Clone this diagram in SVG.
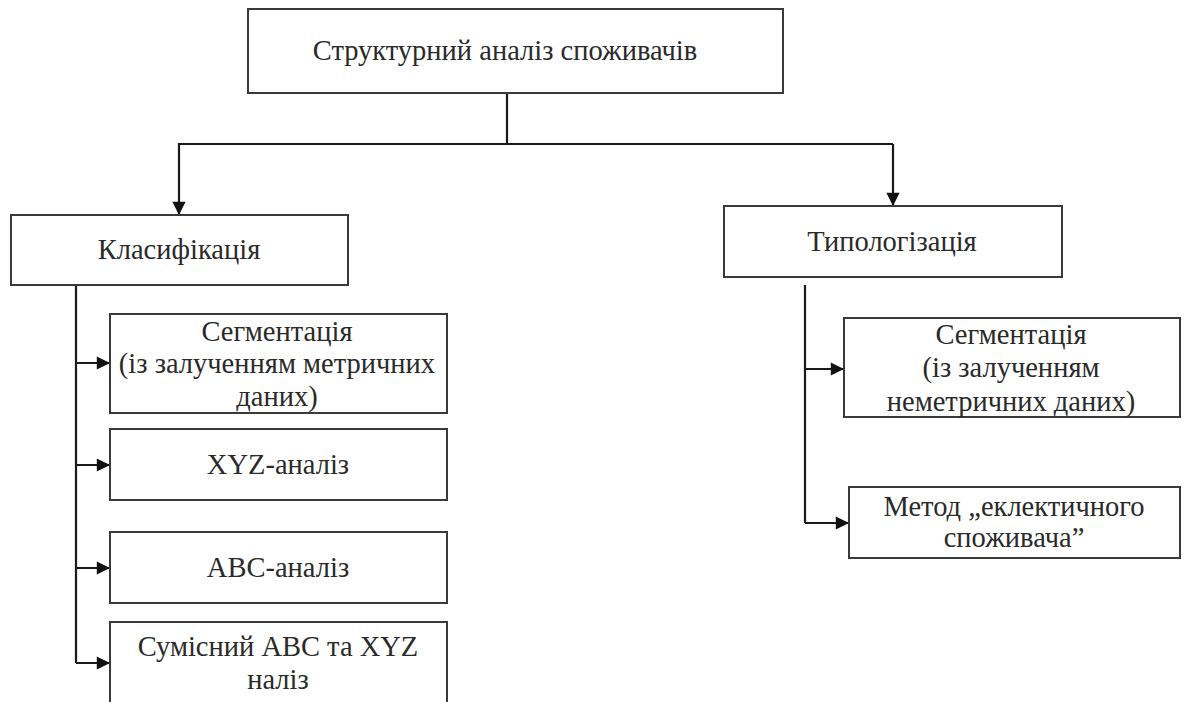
<svg xmlns="http://www.w3.org/2000/svg" width="1185" height="702" viewBox="0 0 1185 702">
<defs>
<style>
.box{fill:#fff;stroke:#3a3a3a;stroke-width:2}
.t{font-family:"Liberation Serif","Times New Roman",serif;font-size:28.5px;fill:#2a2a2a;text-anchor:middle}
.c{fill:none;stroke:#1a1a1a;stroke-width:2.2}
</style>
<marker id="ah" viewBox="0 0 10 10" refX="10" refY="5" markerWidth="7" markerHeight="6" markerUnits="strokeWidth" orient="auto">
<path d="M0,0 L10,5 L0,10 z" fill="#111"/>
</marker>
</defs>
<rect width="1185" height="702" fill="#fff"/>
<g id="connectors">
<path class="c" d="M507,93 V144"/>
<path class="c" d="M893,144 H179 V215" marker-end="url(#ah)"/>
<path class="c" d="M893,144 V206" marker-end="url(#ah)"/>
<path class="c" d="M76,285 V663"/>
<path class="c" d="M76,363 H110" marker-end="url(#ah)"/>
<path class="c" d="M76,465 H110" marker-end="url(#ah)"/>
<path class="c" d="M76,568 H110" marker-end="url(#ah)"/>
<path class="c" d="M76,663 H110" marker-end="url(#ah)"/>
<path class="c" d="M805,285 V523"/>
<path class="c" d="M805,369 H844" marker-end="url(#ah)"/>
<path class="c" d="M805,523 H849" marker-end="url(#ah)"/>
</g>
<g id="root">
<rect class="box" x="248" y="9" width="535" height="84"/>
<text class="t" x="505" y="60">Структурний аналіз споживачів</text>
</g>
<g id="classification">
<rect class="box" x="11" y="215" width="337" height="70"/>
<text class="t" x="179" y="259">Класифікація</text>
</g>
<g id="typology">
<rect class="box" x="724" y="206" width="338" height="71"/>
<text class="t" x="892" y="251">Типологізація</text>
</g>
<g id="seg1">
<rect class="box" x="110" y="314" width="337" height="99"/>
<text class="t" x="277" y="341">Сегментація</text>
<text class="t" x="277" y="373">(із залученням метричних</text>
<text class="t" x="277" y="406">даних)</text>
</g>
<g id="xyz">
<rect class="box" x="110" y="429" width="337" height="71"/>
<text class="t" x="278" y="474">XYZ-аналіз</text>
</g>
<g id="abc">
<rect class="box" x="110" y="532" width="337" height="71"/>
<text class="t" x="278" y="577">ABC-аналіз</text>
</g>
<g id="joint">
<rect class="box" x="110" y="622" width="337" height="100"/>
<text class="t" x="278" y="656">Сумісний ABC та XYZ</text>
<text class="t" x="278" y="689">наліз</text>
</g>
<g id="seg2">
<rect class="box" x="844" y="318" width="336" height="99"/>
<text class="t" x="1011" y="344">Сегментація</text>
<text class="t" x="1011" y="377">(із залученням</text>
<text class="t" x="1011" y="411">неметричних даних)</text>
</g>
<g id="eclectic">
<rect class="box" x="849" y="487" width="331" height="71"/>
<text class="t" x="1014" y="516">Метод „еклектичного</text>
<text class="t" x="1014" y="547">споживача”</text>
</g>
</svg>
